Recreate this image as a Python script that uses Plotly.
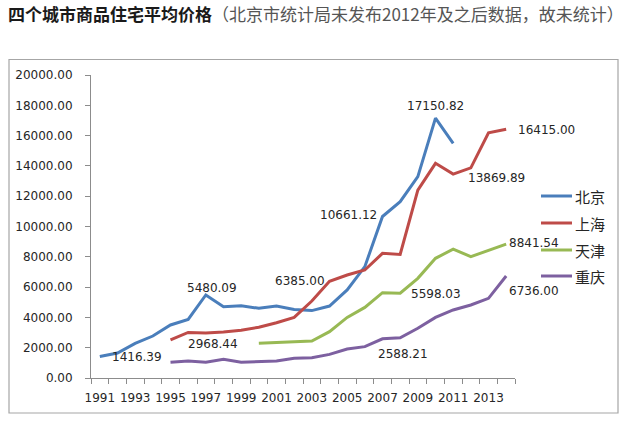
import plotly.graph_objects as go

years_bj = list(range(1991, 2012))
beijing = [1416.39, 1650, 2290, 2770, 3500, 3870, 5480.09, 4710, 4770, 4600, 4750,
           4520, 4450, 4750, 5810, 7350, 10661.12, 11640, 13290, 17150.82, 15490]
years_sh = list(range(1995, 2015))
shanghai = [2510, 3010, 2968.44, 3030, 3150, 3350, 3650, 4000, 5080, 6385.00, 6800,
            7130, 8230, 8160, 12400, 14170, 13460, 13869.89, 16190, 16415.00]
years_tj = list(range(2000, 2015))
tianjin = [2290, 2330, 2380, 2440, 3060, 4000, 4660, 5630, 5598.03, 6580, 7900,
           8510, 8010, 8400, 8841.54]
years_cq = list(range(1995, 2015))
chongqing = [1035, 1120, 1040, 1230, 1040, 1100, 1120, 1300, 1340, 1560, 1910,
             2070, 2588.21, 2660, 3280, 4000, 4490, 4820, 5260, 6736.00]

names = ["北京", "上海", "天津", "重庆"]
colors = ["#4A7EBB", "#BE4B48", "#98B954", "#7D60A0"]
tick_years = list(range(1991, 2014, 2))

# labelled points: (series index, year, xshift, yshift)
labels = [(0, 1991, 37, 0), (0, 1997, 6, 7), (1, 1997, 7, -11), (1, 2004, -30, 0),
          (0, 2007, -34, 1), (0, 2010, 0, 12), (1, 2014, 40, -1), (1, 2012, 26, -10),
          (2, 2014, 28, 1), (2, 2008, 36, -1), (3, 2014, 28, -15), (3, 2007, 20, -15)]

series = [(years_bj, beijing), (years_sh, shanghai), (years_tj, tianjin), (years_cq, chongqing)]

FONT = "DejaVu Sans, Noto Sans CJK SC, sans-serif"
fig = go.Figure()
for (xs, ys), n, c in zip(series, names, colors):
    fig.add_trace(go.Scatter(x=xs, y=ys, name=n, mode="lines",
                             line=dict(color=c, width=3)))

annotations = []
for si, yr, dx, dy in labels:
    xs, ys = series[si]
    v = ys[xs.index(yr)]
    annotations.append(dict(x=yr, y=v, xref="x", yref="y", text=f"{v:.2f}",
                            showarrow=False, xshift=dx, yshift=dy,
                            font=dict(family=FONT, size=12, color="#262626")))

L, R, T, B = 91, 515, 75, 378
def px(x):
    return (x - L) / (R - L)
def py(y):
    return (B - y) / (B - T)

shapes = [dict(type="rect", xref="paper", yref="paper",
               x0=px(9), x1=px(618), y0=py(413), y1=py(59.5),
               line=dict(color="#A6A6A6", width=1.2), layer="below")]

# manual legend
leg_y = [196, 223, 250, 276]
for n, c, yy in zip(names, colors, leg_y):
    shapes.append(dict(type="line", xref="paper", yref="paper",
                       x0=px(541), x1=px(572), y0=py(yy), y1=py(yy),
                       line=dict(color=c, width=3)))
    annotations.append(dict(x=px(573), y=py(yy), xref="paper", yref="paper",
                            text=n, showarrow=False, xanchor="left", yanchor="middle",
                            font=dict(family="Noto Sans CJK SC", size=15, color="#262626")))

fig.update_layout(
    width=640, height=427,
    margin=dict(l=L, r=640 - R, t=T, b=427 - B),
    paper_bgcolor="white", plot_bgcolor="white",
    showlegend=False,
    title=dict(text="<b>四个城市商品住宅平均价格</b><span style='color:#555;font-weight:normal;font-size:17px'>（北京市统计局未发布2012年及之后数据，故未统计）</span>",
               x=8 / 640, xanchor="left", y=1 - 15 / 427, yanchor="middle",
               font=dict(family="Noto Sans CJK SC", size=17, color="#1a1a1a")),
    annotations=annotations,
    shapes=shapes,
    xaxis=dict(range=[1990.5, 2014.5], tickmode="array", tickvals=tick_years,
               ticktext=[str(y) for y in tick_years], ticks="", showgrid=False,
               zeroline=False, showline=True, linecolor="#8C8C8C", linewidth=1,
               ticklabelstandoff=9,
               tickfont=dict(family=FONT, size=12, color="#262626"),
               minor=dict(tickmode="linear", tick0=1990.5, dtick=1, ticks="outside",
                          ticklen=5, tickcolor="#8C8C8C", showgrid=False)),
    yaxis=dict(range=[0, 20000], dtick=2000, tickformat=".2f", ticks="outside",
               ticklen=5, tickcolor="#8C8C8C", showgrid=False, zeroline=False,
               showline=True, linecolor="#8C8C8C", linewidth=1,
               ticklabelstandoff=10,
               tickfont=dict(family=FONT, size=12, color="#262626")),
)

fig.write_html("out.html", config={"displayModeBar": False},
               post_script="document.body.style.margin='0';")
